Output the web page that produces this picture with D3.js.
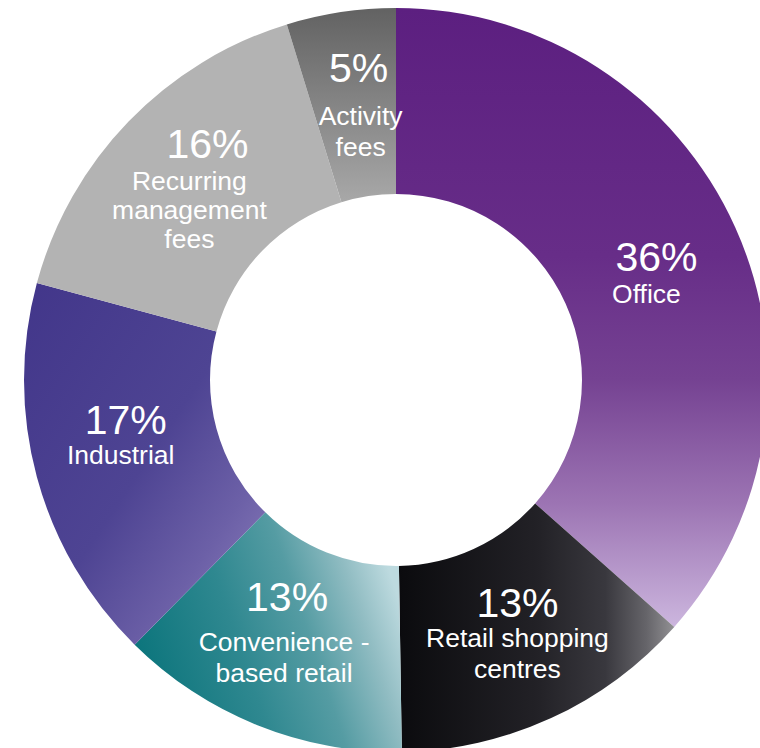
<!DOCTYPE html>
<html>
<head>
<meta charset="utf-8">
<script src="https://cdn.jsdelivr.net/npm/d3@7"></script>
<style>
  html, body { margin: 0; padding: 0; background: #ffffff; }
  svg { display: block; }
  text { font-family: "Liberation Sans", Arial, sans-serif; fill: #ffffff; }
</style>
</head>
<body>
<svg id="chart" width="760" height="748"></svg>
<script>
// ---- data ----
const categories = ["Office", "Retail shopping centres", "Convenience - based retail", "Industrial", "Recurring management fees", "Activity fees"];
const values = [36.55, 13.2, 12.65, 16.8, 16.06, 4.74];
const percentLabels = ["36%", "13%", "13%", "17%", "16%", "5%"];
const nameLines = [
  ["Office"],
  ["Retail shopping", "centres"],
  ["Convenience -", "based retail"],
  ["Industrial"],
  ["Recurring", "management", "fees"],
  ["Activity", "fees"]
];

// ---- styles (gradients per slice) ----
const gradients = [
  { x1: 0, y1: 0, x2: 0, y2: 1, stops: [[0, "#5c1f80"], [0.4, "#672d88"], [0.6, "#754292"], [0.8, "#9c74b3"], [1, "#ccb6de"]] },
  { x1: 0, y1: 0, x2: 1, y2: 0, stops: [[0, "#0b0b0e"], [0.5, "#222126"], [0.75, "#39383e"], [0.9, "#66656a"], [1, "#929194"]] },
  { x1: 0, y1: 0.7, x2: 1, y2: 0.4, stops: [[0, "#08737a"], [0.4, "#2f8890"], [0.65, "#559ca3"], [0.85, "#90bcc2"], [1, "#bddadf"]] },
  { x1: 0, y1: 0, x2: 1, y2: 1, stops: [[0, "#42368a"], [0.5, "#4e4493"], [0.75, "#6c60a7"], [1, "#9184c0"]] },
  { x1: 0, y1: 0, x2: 0, y2: 1, stops: [[0, "#b3b3b3"], [1, "#b3b3b3"]] },
  { x1: 0, y1: 0, x2: 0, y2: 1, stops: [[0, "#626262"], [0.5, "#858585"], [1, "#a8a8a8"]] }
];

// label offsets from arc centroid: [pct dx, pct dy, name dx, name dy]
const labelOffsets = [
  [6, 5, -4, 37],
  [5, -17, 5, 13],
  [-5, -28, -8, 12],
  [-1, -19, -6, 11],
  [12, -28, -6, 4],
  [4, -22, 6, 21]
];

const width = 760, height = 748;
const cx = 396, cy = 380;
const outerR = 372, innerR = 186;

const svg = d3.select("#chart");
const defs = svg.append("defs");

gradients.forEach((g, i) => {
  const lg = defs.append("linearGradient")
    .attr("id", "grad" + i)
    .attr("x1", g.x1).attr("y1", g.y1)
    .attr("x2", g.x2).attr("y2", g.y2);
  g.stops.forEach(s => lg.append("stop").attr("offset", s[0]).attr("stop-color", s[1]));
});

const pie = d3.pie().sort(null).value(d => d.value);
const data = categories.map((c, i) => ({ name: c, value: values[i], idx: i }));
const arcs = pie(data);

const arc = d3.arc().innerRadius(innerR).outerRadius(outerR);
const labelArc = d3.arc().innerRadius((innerR + outerR) / 2).outerRadius((innerR + outerR) / 2);

const g = svg.append("g").attr("transform", `translate(${cx},${cy})`);

g.selectAll("path.slice")
  .data(arcs)
  .join("path")
  .attr("class", "slice")
  .attr("d", arc)
  .attr("fill", d => `url(#grad${d.data.idx})`);

const labels = g.selectAll("g.label")
  .data(arcs)
  .join("g")
  .attr("class", "label");

labels.each(function(d) {
  const i = d.data.idx;
  const [x, y] = labelArc.centroid(d);
  const off = labelOffsets[i];
  const sel = d3.select(this);
  sel.append("text")
    .attr("x", x + off[0])
    .attr("y", y + off[1])
    .attr("text-anchor", "middle")
    .style("font-size", "41px")
    .text(percentLabels[i]);
  const lineH = nameLines[i].length > 2 ? 29 : 31;
  nameLines[i].forEach((ln, k) => {
    sel.append("text")
      .attr("x", x + off[2])
      .attr("y", y + off[3] + k * lineH)
      .attr("text-anchor", "middle")
      .style("font-size", "26.5px")
      .text(ln);
  });
});
</script>
</body>
</html>
